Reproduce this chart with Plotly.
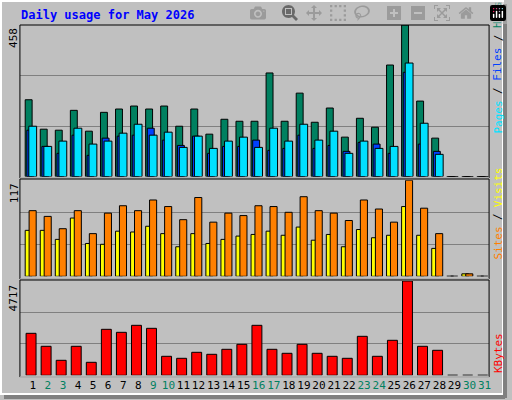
import plotly.graph_objects as go

days = list(range(1, 32))
hits  = [232,143,140,200,137,194,204,213,204,213,152,204,128,173,167,167,313,167,252,164,207,119,176,149,337,458,228,116,0,0,0]
files = [152,91,107,146,98,107,131,158,125,134,88,122,85,107,119,88,146,107,158,110,137,70,107,85,91,343,161,67,0,0,0]
pages = [140,91,70,125,64,116,122,125,146,110,94,122,70,91,91,110,79,85,125,85,94,76,103,98,70,315,98,76,0,0,0]
sites = [80,73,58,80,52,77,86,80,93,85,69,96,66,77,74,86,85,78,97,80,77,68,93,82,66,117,83,52,0,3,0]
visits= [56,56,45,71,40,39,55,54,61,52,36,52,40,45,49,51,55,50,60,44,51,36,57,47,50,85,50,34,0,3,0]
kbytes= [2100,1450,750,1450,650,2300,2150,2500,2350,950,850,1150,1050,1300,1550,2500,1300,1100,1550,1100,950,850,1950,950,1750,4717,1450,1250,0,0,0]
weekend = {2,3,9,10,16,17,23,24,30,31}
y_max = [458, 117, 4717]

W, H = 512, 400
def py(p): return 1 - p / H
def px(p): return p / W

fig = go.Figure()
line = dict(color="black", width=1)
def bar(y, color, off, wid, xa, ya):
    fig.add_trace(go.Bar(x=days, y=y, offset=off, width=wid, marker=dict(color=color, line=line),
                         xaxis=xa, yaxis=ya, showlegend=False, hoverinfo="skip"))

bar(hits, "#008060", -0.51, 0.46, "x", "y")
bar(pages, "#0040ff", -0.40, 0.46, "x", "y")
bar(files, "#00e0ff", -0.27, 0.52, "x", "y")
bar(visits, "#ffff00", -0.51, 0.45, "x2", "y2")
bar(sites, "#ff8000", -0.25, 0.47, "x2", "y2")
bar(kbytes, "#ff0000", -0.45, 0.66, "x3", "y3")

xdom = [px(20), px(491)]
panels = [(25, 176.5), (180.3, 276.3), (281, 375.3)]
font = dict(family="DejaVu Sans Mono", size=11, color="black")
ticktext = [f"<span style='color:#008060'>{d}</span>" if d in weekend else str(d) for d in days]
lay = dict(paper_bgcolor="#c0c0c0", plot_bgcolor="#c0c0c0", width=W, height=H,
           margin=dict(l=0, r=0, t=0, b=0), barmode="overlay", font=font)
for i, (t, b) in enumerate(panels):
    s = "" if i == 0 else str(i + 1)
    lay["xaxis" + s] = dict(domain=xdom, range=[0.14, 31.3], anchor="y" + s, showgrid=False, zeroline=False,
                            showticklabels=(i == 2), tickvals=days, ticktext=ticktext, ticks="", tickangle=0,
                            ticklabelstandoff=2,
                            tickfont=dict(family="DejaVu Sans Mono", size=11))
    lay["yaxis" + s] = dict(domain=[py(b), py(t)], range=[0, y_max[i]], anchor="x" + s,
                            tickvals=[y_max[i] / 3, 2 * y_max[i] / 3], showticklabels=False,
                            gridcolor="#808080", gridwidth=1, zeroline=False)
fig.update_layout(**lay)

shapes = [
    dict(type="rect", xref="paper", yref="paper", x0=px(1), x1=px(505), y0=py(394), y1=py(1), line=dict(color="white", width=2)),
    dict(type="line", xref="paper", yref="paper", x0=px(507), x1=px(507), y0=py(398), y1=py(4), line=dict(color="#808080", width=4)),
    dict(type="line", xref="paper", yref="paper", x0=px(4), x1=px(507), y0=py(397), y1=py(397), line=dict(color="#808080", width=4)),
]
for tb in [(25, 178), (179, 279), (280, 377)]:
    shapes.append(dict(type="rect", xref="paper", yref="paper", x0=px(20), x1=px(491), y0=py(tb[1]), y1=py(tb[0]),
                       line=dict(color="black", width=1)))
    shapes.append(dict(type="line", xref="paper", yref="paper", x0=px(20), x1=px(491), y0=py(tb[1]), y1=py(tb[1]),
                       line=dict(color="white", width=1)))
fig.update_layout(shapes=shapes)

ann = [dict(text="<b>Daily usage for May 2026</b>", x=px(19), y=py(15), xanchor="left", yanchor="middle",
            font=dict(family="DejaVu Sans Mono", size=12, color="#0000ff"))]
for (t, b), m in zip(panels, y_max):
    ann.append(dict(text=str(m), x=px(14), y=py(t + 1), xanchor="center", yanchor="top", textangle=-90,
                    font=dict(family="DejaVu Sans Mono", size=11)))
# right-side vertical labels, one word per annotation (bottom-to-top)
right = [[("Pages", "#00e0ff"), ("/", "#000000"), ("Files", "#0040ff"), ("/", "#000000"), ("Hits", "#008060")],
         [("Sites", "#ff8000"), ("/", "#000000"), ("Visits", "#ffff00")],
         [("KBytes", "#ff0000")]]
starts = [136, 262, 375]
cw = 6.6
for words, y0 in zip(right, starts):
    y = y0
    for w, c in words:
        ann.append(dict(text=w, x=px(500), y=py(y), xanchor="center", yanchor="bottom", textangle=-90,
                        font=dict(family="DejaVu Sans Mono", size=11, color=c)))
        y -= cw * (len(w) + 1)
fig.update_layout(annotations=[dict(xref="paper", yref="paper", showarrow=False, **a) for a in ann])
fig.write_html("out.html", post_script="document.body.style.margin='0';document.body.style.overflow='hidden';")
